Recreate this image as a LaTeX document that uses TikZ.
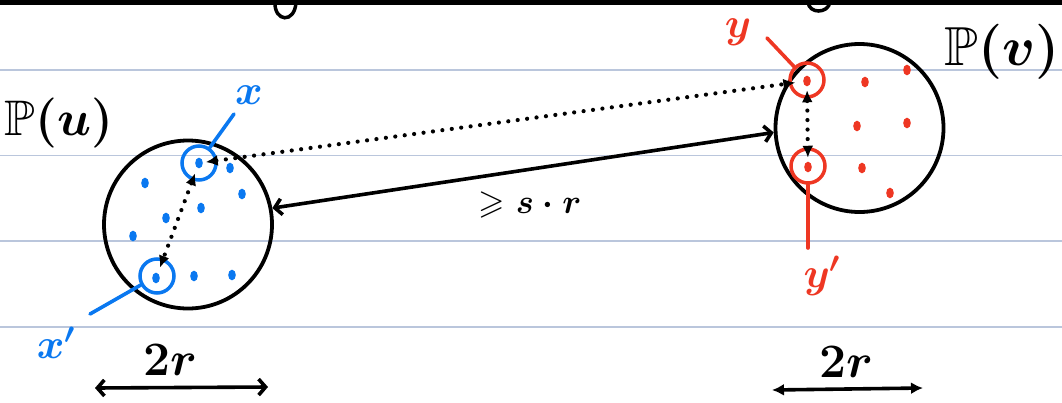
\RequirePackage{fix-cm}
\documentclass[tikz,border=0pt]{standalone}
\usepackage{amssymb}
\usetikzlibrary{arrows.meta,shapes.geometric}
\definecolor{rulec}{RGB}{186,198,220}
\definecolor{penblue}{RGB}{10,120,240}
\definecolor{penred}{RGB}{238,55,35}
\tikzset{
  rule/.style={rulec, line width=1.3pt},
  bigcirc/.style={circle, draw=black, line width=3.8pt, minimum size=168pt, inner sep=0pt},
  ptcirc/.style={circle, draw, line width=3.5pt, minimum size=34pt, inner sep=0pt},
  pt/.style={ellipse, draw, fill, line width=1.5pt, minimum width=6pt, minimum height=9pt, inner sep=0pt},
  pen/.style={line width=3.6pt, line cap=round},
  dotline/.style={line width=4.2pt, line cap=round, dash pattern=on 0pt off 9.5pt},
  dtip/.style={{Latex[length=12pt,width=11pt]}-{Latex[length=12pt,width=11pt]}},
  btip/.style={{Straight Barb[length=7pt,width=16pt,line width=3.6pt]}-{Straight Barb[length=7pt,width=16pt,line width=3.6pt]}},
  lbl/.style={font=\fontsize{42}{42}\selectfont\boldmath, inner sep=0pt},
}
\begin{document}
\begin{tikzpicture}[x=1pt,y=-1pt]
\useasboundingbox (0,0) rectangle (1062,402);
% ruled paper
\foreach \yy in {70,155.5,241,327} \draw[rule] (0,\yy) -- (1062,\yy);
% top heading line and cut-off letters
\draw[line width=4.5pt] (0,2.5) -- (1062,2.5);
\draw[pen, line width=3.5pt] (275,2) .. controls (274,22) and (295,24) .. (296,2);
\draw[pen, line width=3.5pt] (808,2) .. controls (809,14) and (828,14) .. (830,2);
% big circles
\node[bigcirc] (lc) at (188,224.5) {};
\node[bigcirc] (rc) at (859.5,128) {};
% labels P(u), P(v)
\node[lbl, font=\fontsize{50}{50}\selectfont\boldmath] (pu) at (59,123) {$\mathbb{P}(u)$};
\node[lbl, font=\fontsize{55}{55}\selectfont\boldmath] (pv) at (1002,52) {$\mathbb{P}(v)$};
% blue points
\node[ptcirc, penblue] (xc) at (199,163) {};
\node[ptcirc, penblue] (xpc) at (157,276) {};
\node[pt, penblue] (x0) at (199,163) {};
\node[pt, penblue] (xp0) at (156,278) {};
\foreach \px/\py [count=\i] in {145/183,230/168,242/194,201/208,166/218,133/236,194/276,232/275}
  \node[pt, penblue] (b\i) at (\px,\py) {};
% blue labels and lines
\coordinate (xend) at (234,114);
\coordinate (xpend) at (90,314);
\draw[pen, penblue] (xc.55) -- (xend);
\draw[pen, penblue] (xpc.209) -- (xpend);
\node[lbl, penblue] (xl) at (249,95) {$x$};
\node[lbl, penblue] (xpl) at (56,343) {$x'$};
% red points
\node[ptcirc, penred] (yc) at (807,80) {};
\node[ptcirc, penred] (ypc) at (808,166) {};
\node[pt, penred] (y0) at (807,81) {};
\node[pt, penred] (yp0) at (808,167) {};
\foreach \px/\py [count=\i] in {865/82,907/70,857/126,907/123,862/168,890/193}
  \node[pt, penred] (r\i) at (\px,\py) {};
\coordinate (yend) at (767,38);
\coordinate (ypend) at (808,248);
\draw[pen, penred] (yc.134) -- (yend);
\draw[pen, penred] (ypc.270) -- (ypend);
\node[lbl, penred] (yl) at (738,32) {$y$};
\node[lbl, penred] (ypl) at (822,276) {$y'$};
% dotted distance arrows
\draw[dotline, dtip, shorten <=3pt, shorten >=8pt] (x0) -- (y0);
\draw[dotline, dtip, shorten <=6pt, shorten >=6pt] (x0) -- (xp0);
\draw[dotline, dtip, shorten <=4pt, shorten >=4pt] (y0) -- (yp0);
% solid separation arrow
\draw[pen, btip] (lc.11) -- (rc.183);
\node[lbl, font=\fontsize{34}{34}\selectfont\boldmath] (sr) at (530,205) {$\geqslant s\cdot r$};
% 2r dimensions
\coordinate (d1a) at (95,388);
\coordinate (d1b) at (268,387);
\coordinate (d2a) at (772,390);
\coordinate (d2b) at (923,388);
\draw[pen, btip] (d1a) -- (d1b);
\draw[pen, {Latex[length=12pt,width=12pt]}-{Latex[length=12pt,width=12pt]}] (d2a) -- (d2b);
\node[lbl, font=\fontsize{48}{48}\selectfont\boldmath] (tr1) at (170,360) {$2r$};
\node[lbl, font=\fontsize{48}{48}\selectfont\boldmath] (tr2) at (846,362) {$2r$};
\end{tikzpicture}
\end{document}
